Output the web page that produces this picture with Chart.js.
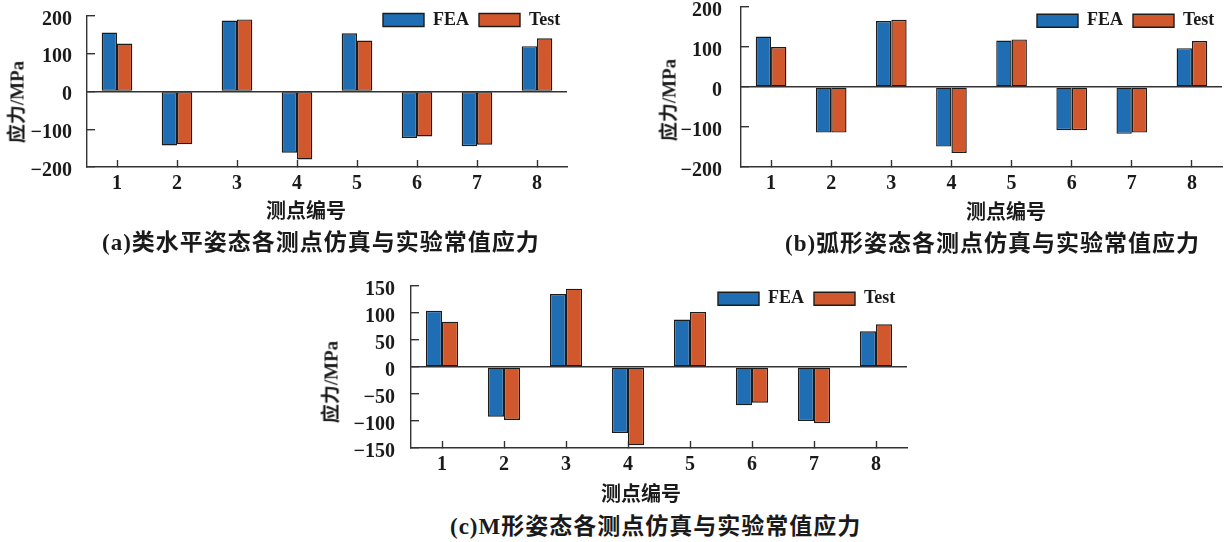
<!DOCTYPE html>
<html lang="zh">
<head>
<meta charset="utf-8">
<title>各测点仿真与实验常值应力</title>
<script src="https://cdn.jsdelivr.net/npm/chart.js@4.4.1/dist/chart.umd.min.js"></script>
<style>
  html, body { margin: 0; padding: 0; background: #fff; }
  body { width: 1226px; height: 542px; position: relative; overflow: hidden; }
  canvas { position: absolute; }
  .txt { position: absolute; white-space: nowrap; color: #1a1a1a; line-height: 1;
         font-family: "Liberation Serif", "Noto Sans CJK SC", serif; font-weight: bold; }
  .xt { font-size: 20px; transform: translate(-50%, -50%); }
  .yt { font-size: 19px; transform: translate(-50%, -50%) rotate(-90deg); }
  .cap { font-size: 23px; letter-spacing: 1px; transform: translateY(-50%); }
</style>
</head>
<body>
<canvas id="chartA" width="570" height="242" style="left:7px;top:-30px"></canvas>
<canvas id="chartB" width="571" height="251" style="left:661px;top:-39px"></canvas>
<canvas id="chartC" width="586" height="253" style="left:331px;top:240px"></canvas>

<div class="txt yt" style="left:17px;top:102px">应力/MPa</div>
<div class="txt xt" style="left:306px;top:211px">测点编号</div>
<div class="txt cap" style="left:102px;top:242px">(a)类水平姿态各测点仿真与实验常值应力</div>

<div class="txt yt" style="left:669px;top:100px">应力/MPa</div>
<div class="txt xt" style="left:1006px;top:212px">测点编号</div>
<div class="txt cap" style="left:785px;top:243px">(b)弧形姿态各测点仿真与实验常值应力</div>

<div class="txt yt" style="left:331px;top:382px">应力/MPa</div>
<div class="txt xt" style="left:641px;top:494px">测点编号</div>
<div class="txt cap" style="left:450px;top:526px">(c)M形姿态各测点仿真与实验常值应力</div>

<script>
const categories = ['1', '2', '3', '4', '5', '6', '7', '8'];

// (a) 类水平姿态
const feaA  = [156, -143, 188, -162, 154, -123, -145, 120];
const testA = [127, -140, 191, -180, 135, -119, -141, 141];
// (b) 弧形姿态
const feaB  = [126, -114, 165, -149, 116, -108, -117, 97];
const testB = [100, -114, 168, -165, 119, -108, -114, 115];
// (c) M形姿态
const feaC  = [104, -92, 135, -122, 88, -71, -100, 66];
const testC = [84, -98, 145, -145, 102, -66, -104, 79];

const yTicksAB = [-200, -100, 0, 100, 200];
const yTicksC = [-150, -100, -50, 0, 50, 100, 150];

const blue = '#1f6eb4';
const orange = '#d1582d';
const edge = '#1c1c1c';
const axisColor = '#333333';
const textColor = '#1a1a1a';
const tickFont = { family: 'Liberation Serif', size: 20, weight: 'bold' };

// moves the built-in legend into the top right corner of the plot
function legendAt(left, top) {
  return {
    id: 'legendAt',
    afterLayout(chart) {
      const lg = chart.legend;
      lg.left = left;
      lg.top = top;
      lg.right = chart.width;
      lg.bottom = top + 40;
      lg.width = lg.right - lg.left;
      lg.height = 40;
    }
  };
}

function makeChart(id, fea, test, yTicks, geo) {
  const ctx = document.getElementById(id);
  return new Chart(ctx, {
    type: 'bar',
    data: {
      labels: categories,
      datasets: [
        { label: 'FEA', data: fea, backgroundColor: blue, borderColor: edge, borderWidth: 1.4,
          borderSkipped: false, barPercentage: 1, categoryPercentage: geo.cat },
        { label: 'Test', data: test, backgroundColor: orange, borderColor: edge, borderWidth: 1.4,
          borderSkipped: false, barPercentage: 1, categoryPercentage: geo.cat }
      ]
    },
    options: {
      responsive: false,
      animation: false,
      events: [],
      // big top padding so the y labels' own padding does not push the plot down
      layout: { padding: { top: 45, right: 10, bottom: 0, left: 0 } },
      scales: {
        x: {
          afterFit: s => { s.height = 45; },
          border: { display: true, color: axisColor, width: 1.4 },
          grid: { offset: false, drawOnChartArea: false, tickLength: -7, tickColor: axisColor, tickWidth: 1.4 },
          ticks: { padding: 11.5, color: textColor, font: tickFont, maxRotation: 0, autoSkip: false }
        },
        y: {
          min: yTicks[0],
          max: yTicks[yTicks.length - 1],
          afterBuildTicks: s => { s.ticks = yTicks.map(v => ({ value: v })); },
          afterFit: s => { s.width = 80; },
          border: { display: true, color: axisColor, width: 1.4 },
          grid: {
            color: c => (c.tick && c.tick.value === 0 ? axisColor : 'rgba(0,0,0,0)'),
            lineWidth: 1.4,
            tickColor: axisColor,
            tickLength: -8,
            tickWidth: 1.4
          },
          ticks: {
            padding: geo.yPad,
            labelOffset: geo.yOff,
            color: textColor,
            font: tickFont,
            callback: v => String(v).replace('-', '\u2212')
          }
        }
      },
      plugins: {
        legend: {
          position: 'top',
          align: 'start',
          maxHeight: 1,
          labels: {
            boxWidth: 41,
            boxHeight: 13,
            padding: 10,
            color: textColor,
            font: { family: 'Liberation Serif', size: 18, weight: 'bold' }
          }
        },
        tooltip: { enabled: false }
      }
    },
    plugins: [legendAt(geo.legendLeft, geo.legendTop)]
  });
}

makeChart('chartA', feaA, testA, yTicksAB, { cat: 0.51, yPad: 23, yOff: 3.5, legendLeft: 366, legendTop: 31 });
makeChart('chartB', feaB, testB, yTicksAB, { cat: 0.51, yPad: 27, yOff: 4, legendLeft: 366, legendTop: 40.7 });
makeChart('chartC', feaC, testC, yTicksC, { cat: 0.52, yPad: 24, yOff: 3.5, legendLeft: 377, legendTop: 39.7 });
</script>
</body>
</html>
